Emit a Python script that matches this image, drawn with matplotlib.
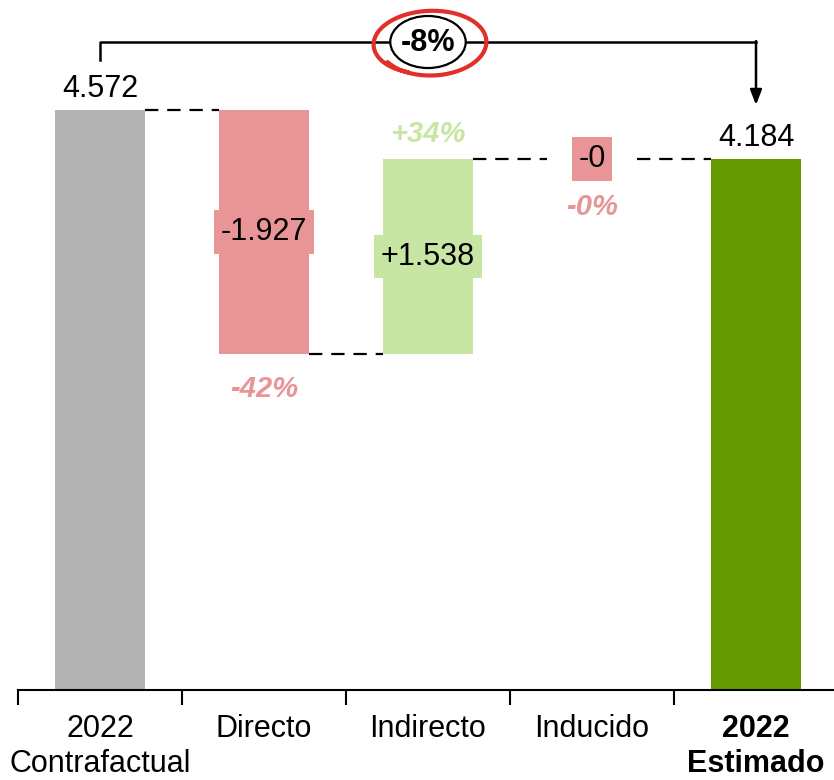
import numpy as np
import matplotlib
matplotlib.use("Agg")
from matplotlib import pyplot as plt
from matplotlib.patches import Ellipse

plt.rcParams["font.family"] = ["Liberation Sans", "DejaVu Sans"]

categories = ["2022\nContrafactual", "Directo", "Indirecto", "Inducido", "2022\nEstimado"]
start_value = 4572
deltas = [-1927, 1538, -0.4]
end_value = 4184

grey = "#b3b3b3"
red = "#e99597"
light_green = "#c8e6a3"
dark_green = "#669900"


def fmt(v, sign=False):
    s = f"{abs(v):,.0f}".replace(",", ".")
    if sign:
        s = ("-" if v < 0 else "+") + s
    return s


fig = plt.figure(figsize=(8.34, 7.8), dpi=100)
ax = fig.add_axes([18 / 834, 90 / 780, 820 / 834, 690 / 780])
ax.set_xlim(-0.5, 4.5)
ax.set_ylim(0, 5437)

w = 0.55
fs = 22
x = np.arange(len(categories))

# start and end totals
ax.bar(0, start_value, width=w, color=grey)
ax.bar(4, end_value, width=w, color=dark_green)
ax.annotate(fmt(start_value), (0, start_value), xytext=(0, 4), textcoords="offset points",
            ha="center", va="bottom", fontsize=fs)
ax.annotate(fmt(end_value), (4, end_value), xytext=(0, 4), textcoords="offset points",
            ha="center", va="bottom", fontsize=fs)

# floating bars for each effect
level = start_value
levels = [start_value]
for i, d in enumerate(deltas, start=1):
    col = red if d < 0 else light_green
    bottom = level + d if d < 0 else level
    ax.bar(i, abs(d), bottom=bottom, width=w, color=col)
    mid = bottom + abs(d) / 2
    ax.text(i, mid, fmt(d, sign=True), ha="center", va="center", fontsize=fs,
            bbox=dict(boxstyle="square,pad=0.22", fc=col, ec="none"))
    pct = d / start_value * 100
    ptxt = ("-" if d < 0 else "+") + f"{abs(pct):.0f}%"
    # tiny bars: the value box sticks out, so keep the percentage clear of it
    extra = 9 if abs(d) < 100 else 0
    if d < 0:
        ax.annotate(ptxt, (i, level + d), xytext=(0, -15 - extra), textcoords="offset points",
                    ha="center", va="top", fontsize=fs - 1, fontweight="bold",
                    fontstyle="italic", color=col)
    else:
        ax.annotate(ptxt, (i, level + d), xytext=(0, 8), textcoords="offset points",
                    ha="center", va="bottom", fontsize=fs - 1, fontweight="bold",
                    fontstyle="italic", color=col)
    level += d
    levels.append(level)

# dashed connectors between bars
conn_levels = [start_value, levels[1], levels[2], levels[3]]
for i, lv in enumerate(conn_levels):
    ax.plot([i + w / 2, i + 1 - w / 2], [lv, lv], color="black", lw=1.6,
            dashes=(6, 4))

# bracket with total change
top = 5106
ax.plot([0, 0, 4], [4965, top, top], color="black", lw=1.8, clip_on=False)
ax.annotate("", xy=(4, 4610), xytext=(4, top + 7),
            arrowprops=dict(arrowstyle="-|>,head_width=0.35,head_length=0.9",
                            color="black", lw=1.8, shrinkA=0, shrinkB=0))
ax.add_patch(Ellipse((2.0, top), 0.46, 410, fc="white", ec="black", lw=1.6, zorder=5))
total_pct = (end_value - start_value) / start_value * 100
ax.text(2.0, top - 10, f"{total_pct:.0f}%", ha="center", va="center", fontsize=22,
        fontweight="bold", zorder=6)

# red marker ring drawn around the total
t = np.linspace(np.radians(215), np.radians(215 + 390), 200)
r = 1 + 0.05 * np.sin(t * 1.5)
ex = 2.02 + 0.335 * r * np.cos(t)
ey = top + 255 * r * np.sin(t) + 20 * np.cos(t)
ax.plot(ex, ey, color="#e0302a", lw=3, solid_capstyle="round", zorder=7)

# axis styling
for s in ["left", "top", "right"]:
    ax.spines[s].set_visible(False)
ax.spines["bottom"].set_linewidth(1.5)
ax.set_yticks([])
ax.set_xticks(x)
ax.set_xticklabels(categories, fontsize=fs, linespacing=1.22)
ax.get_xticklabels()[-1].set_fontweight("bold")
ax.tick_params(axis="x", which="major", length=0, pad=17)
ax.set_xticks(np.arange(-0.5, 5.0, 1), minor=True)
ax.tick_params(axis="x", which="minor", length=11, width=1.5, direction="out")

fig.savefig("out.png", dpi=100)
